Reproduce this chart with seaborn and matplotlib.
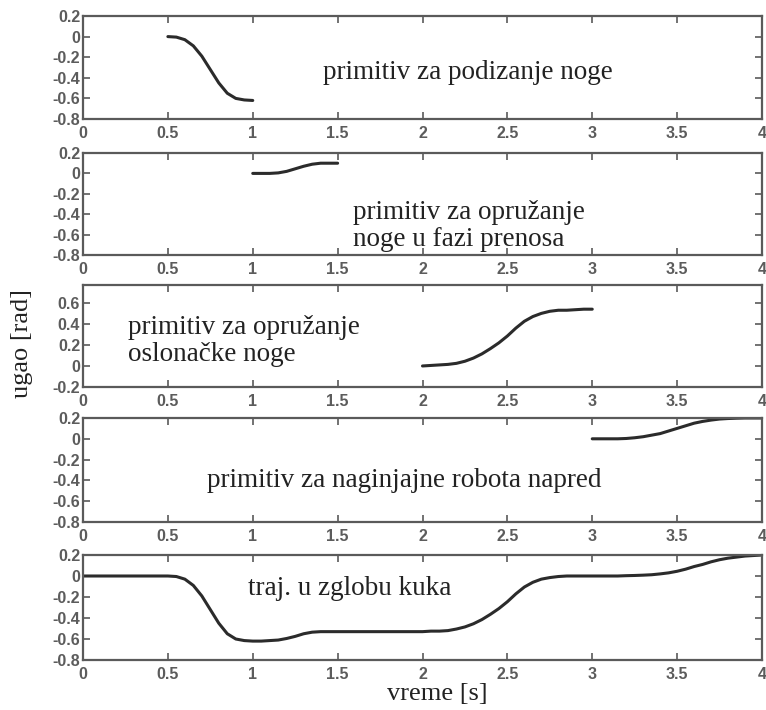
import matplotlib
matplotlib.use("Agg")
import matplotlib.pyplot as plt
import pandas as pd
import seaborn as sns

# Time grids (s) and joint angles (rad) for each motion primitive
t_lift = [0.50, 0.55, 0.60, 0.65, 0.70, 0.75, 0.80, 0.85, 0.90, 0.95, 1.00]
q_lift = [0.0, -0.005, -0.03, -0.09, -0.19, -0.32, -0.45, -0.55, -0.60, -0.615, -0.62]

t_swing = [1.00, 1.05, 1.10, 1.15, 1.20, 1.25, 1.30, 1.35, 1.40, 1.45, 1.50]
q_swing = [0.0, 0.0, 0.0, 0.005, 0.02, 0.045, 0.07, 0.09, 0.10, 0.10, 0.10]

t_support = [2.00, 2.05, 2.10, 2.15, 2.20, 2.25, 2.30, 2.35, 2.40, 2.45, 2.50,
             2.55, 2.60, 2.65, 2.70, 2.75, 2.80, 2.85, 2.90, 2.95, 3.00]
q_support = [0.0, 0.005, 0.01, 0.015, 0.025, 0.045, 0.075, 0.115, 0.165, 0.22, 0.285,
             0.36, 0.425, 0.47, 0.50, 0.52, 0.53, 0.53, 0.535, 0.54, 0.54]

t_lean = [3.00, 3.05, 3.10, 3.15, 3.20, 3.25, 3.30, 3.35, 3.40, 3.45, 3.50,
          3.55, 3.60, 3.65, 3.70, 3.75, 3.80, 3.85, 3.90, 3.95, 4.00]
q_lean = [0.0, 0.0, 0.0, 0.0, 0.003, 0.01, 0.02, 0.035, 0.05, 0.075, 0.10,
          0.125, 0.15, 0.167, 0.18, 0.19, 0.195, 0.198, 0.2, 0.2, 0.2]

t_hip = [0.00, 0.05, 0.10, 0.15, 0.20, 0.25, 0.30, 0.35, 0.40, 0.45, 0.50,
         0.55, 0.60, 0.65, 0.70, 0.75, 0.80, 0.85, 0.90, 0.95, 1.00,
         1.05, 1.10, 1.15, 1.20, 1.25, 1.30, 1.35, 1.40, 1.45, 1.50,
         1.55, 1.60, 1.65, 1.70, 1.75, 1.80, 1.85, 1.90, 1.95, 2.00,
         2.05, 2.10, 2.15, 2.20, 2.25, 2.30, 2.35, 2.40, 2.45, 2.50,
         2.55, 2.60, 2.65, 2.70, 2.75, 2.80, 2.85, 2.90, 2.95, 3.00,
         3.05, 3.10, 3.15, 3.20, 3.25, 3.30, 3.35, 3.40, 3.45, 3.50,
         3.55, 3.60, 3.65, 3.70, 3.75, 3.80, 3.85, 3.90, 3.95, 4.00]
q_hip = [0.0, 0.0, 0.0, 0.0, 0.0, 0.0, 0.0, 0.0, 0.0, 0.0, 0.0,
         -0.005, -0.03, -0.09, -0.19, -0.32, -0.45, -0.55, -0.60, -0.615, -0.62,
         -0.62, -0.615, -0.61, -0.595, -0.575, -0.55, -0.535, -0.53, -0.53, -0.53,
         -0.53, -0.53, -0.53, -0.53, -0.53, -0.53, -0.53, -0.53, -0.53, -0.53,
         -0.525, -0.525, -0.52, -0.505, -0.485, -0.455, -0.415, -0.365, -0.31, -0.245,
         -0.17, -0.105, -0.06, -0.03, -0.015, -0.005, 0.0, 0.0, 0.0, 0.0,
         0.0, 0.0, 0.0, 0.003, 0.005, 0.008, 0.012, 0.02, 0.03, 0.045,
         0.065, 0.09, 0.11, 0.135, 0.155, 0.17, 0.18, 0.19, 0.195, 0.2]

x_ticks = [0, 0.5, 1, 1.5, 2, 2.5, 3, 3.5, 4]
x_tick_labels = ["0", "0.5", "1", "1.5", "2", "2.5", "3", "3.5", "4"]
y_ticks_std = [-0.8, -0.6, -0.4, -0.2, 0, 0.2]
y_labels_std = ["-0.8", "-0.6", "-0.4", "-0.2", "0", "0.2"]
y_ticks_sup = [-0.2, 0, 0.2, 0.4, 0.6]
y_labels_sup = ["-0.2", "0", "0.2", "0.4", "0.6"]

captions = [
    "primitiv za podizanje noge",
    "primitiv za opružanje\nnoge u fazi prenosa",
    "primitiv za opružanje\noslonačke noge",
    "primitiv za naginjajne robota napred",
    "traj. u zglobu kuka",
]

sns.set_style("ticks")
plt.rcParams["font.family"] = ["Liberation Sans", "DejaVu Sans"]

W, H = 766, 710
fig = plt.figure(figsize=(W / 100, H / 100), dpi=100)

# panel boxes in pixels: (top, bottom)
boxes = [(16, 119), (153, 255), (285, 387), (418, 522), (555, 660)]
left_px, right_px = 83, 762

series = [(t_lift, q_lift), (t_swing, q_swing), (t_support, q_support),
          (t_lean, q_lean), (t_hip, q_hip)]
ylims = [(-0.8, 0.2), (-0.8, 0.2), (-0.2, 0.77), (-0.8, 0.2), (-0.8, 0.2)]

# caption placement (x, y in data units, horizontal alignment)
cap_pos = [(2.27, -0.35, "center"), (1.59, -0.52, "left"), (0.265, 0.24, "left"),
           (1.894, -0.40, "center"), (1.573, -0.12, "center")]

spine_col = "#5a5a5a"
tick_col = "#5c5c5c"
line_col = "#2b2b2b"

for i, ((top, bot), (t, q)) in enumerate(zip(boxes, series)):
    ax = fig.add_axes([left_px / W, 1 - bot / H, (right_px - left_px) / W, (bot - top) / H])
    df = pd.DataFrame({"t": t, "q": q})
    sns.lineplot(data=df, x="t", y="q", ax=ax, color=line_col, linewidth=2.2)
    ax.set_xlim(0, 4)
    ax.set_ylim(*ylims[i])
    ax.set_xticks(x_ticks)
    ax.set_xticklabels(x_tick_labels)
    if i == 2:
        ax.set_yticks(y_ticks_sup)
        ax.set_yticklabels(y_labels_sup)
    else:
        ax.set_yticks(y_ticks_std)
        ax.set_yticklabels(y_labels_std)
    ax.set_xlabel("")
    ax.set_ylabel("")
    ax.tick_params(direction="in", length=5, width=1.2, color=spine_col,
                   labelcolor=tick_col, labelsize=11.5, top=True, right=True)
    ax.tick_params(axis="x", pad=5)
    ax.tick_params(axis="y", pad=2)
    for lbl in ax.get_xticklabels() + ax.get_yticklabels():
        lbl.set_fontweight("bold")
    for s in ax.spines.values():
        s.set_visible(True)
        s.set_color(spine_col)
        s.set_linewidth(1.6)
    cx, cy, ha = cap_pos[i]
    ax.text(cx, cy, captions[i], ha=ha, va="center", fontsize=19.5,
            family="Liberation Serif", color="#222222", linespacing=1.1)

fig.text(22 / W, 1 - 343 / H, "ugao [rad]", rotation=90, ha="center", va="center",
         fontsize=19, family="Liberation Serif", color="#222222")
fig.text(437 / W, 1 - 694 / H, "vreme [s]", ha="center", va="center",
         fontsize=19, family="Liberation Serif", color="#222222")

fig.savefig("out.png", dpi=100)
